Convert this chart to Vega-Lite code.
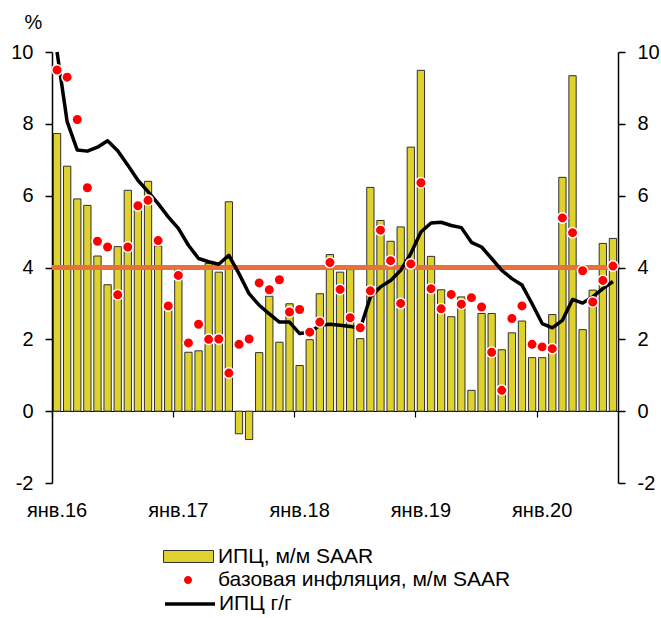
{
  "$schema": "https://vega.github.io/schema/vega-lite/v6.json",
  "width": 566,
  "height": 431,
  "autosize": {"type": "none"},
  "padding": {"left": 52, "top": 52, "right": 43, "bottom": 135},
  "config": {
    "view": {"stroke": null},
    "font": "Liberation Sans",
    "axis": {"labelFont": "Liberation Sans", "labelFontSize": 20, "labelColor": "#000", "grid": false, "domainColor": "#000", "tickColor": "#000", "titleFont": "Liberation Sans"},
    "legend": {"labelFont": "Liberation Sans", "labelFontSize": 21, "labelColor": "#000", "padding": 0, "title": null, "labelLimit": 600}
  },
  "data": {
    "values": [
      {"m": "2016-01", "cpi": 7.73, "core": 9.50, "yoy": 10.0},
      {"m": "2016-02", "cpi": 6.82, "core": 9.30, "yoy": 8.06},
      {"m": "2016-03", "cpi": 5.91, "core": 8.12, "yoy": 7.27},
      {"m": "2016-04", "cpi": 5.73, "core": 6.22, "yoy": 7.24},
      {"m": "2016-05", "cpi": 4.32, "core": 4.73, "yoy": 7.35},
      {"m": "2016-06", "cpi": 3.52, "core": 4.57, "yoy": 7.53},
      {"m": "2016-07", "cpi": 4.58, "core": 3.24, "yoy": 7.25},
      {"m": "2016-08", "cpi": 6.15, "core": 4.57, "yoy": 6.85},
      {"m": "2016-09", "cpi": 5.80, "core": 5.72, "yoy": 6.43},
      {"m": "2016-10", "cpi": 6.40, "core": 5.87, "yoy": 6.11},
      {"m": "2016-11", "cpi": 4.60, "core": 4.75, "yoy": 5.78},
      {"m": "2016-12", "cpi": 2.90, "core": 2.93, "yoy": 5.41},
      {"m": "2017-01", "cpi": 4.05, "core": 3.78, "yoy": 5.09},
      {"m": "2017-02", "cpi": 1.64, "core": 1.90, "yoy": 4.62},
      {"m": "2017-03", "cpi": 1.68, "core": 2.42, "yoy": 4.25},
      {"m": "2017-04", "cpi": 4.11, "core": 2.00, "yoy": 4.16},
      {"m": "2017-05", "cpi": 3.87, "core": 2.01, "yoy": 4.09},
      {"m": "2017-06", "cpi": 5.83, "core": 1.06, "yoy": 4.34},
      {"m": "2017-07", "cpi": -0.63, "core": 1.86, "yoy": 3.83},
      {"m": "2017-08", "cpi": -0.79, "core": 2.01, "yoy": 3.27},
      {"m": "2017-09", "cpi": 1.63, "core": 3.57, "yoy": 2.95},
      {"m": "2017-10", "cpi": 3.20, "core": 3.38, "yoy": 2.71},
      {"m": "2017-11", "cpi": 1.92, "core": 3.66, "yoy": 2.48},
      {"m": "2017-12", "cpi": 2.99, "core": 2.76, "yoy": 2.48},
      {"m": "2018-01", "cpi": 1.27, "core": 2.83, "yoy": 2.16},
      {"m": "2018-02", "cpi": 1.99, "core": 2.20, "yoy": 2.20},
      {"m": "2018-03", "cpi": 3.27, "core": 2.48, "yoy": 2.39},
      {"m": "2018-04", "cpi": 4.36, "core": 4.14, "yoy": 2.42},
      {"m": "2018-05", "cpi": 3.87, "core": 3.39, "yoy": 2.39},
      {"m": "2018-06", "cpi": 3.94, "core": 2.60, "yoy": 2.36},
      {"m": "2018-07", "cpi": 2.02, "core": 2.32, "yoy": 2.30},
      {"m": "2018-08", "cpi": 6.23, "core": 3.35, "yoy": 3.18},
      {"m": "2018-09", "cpi": 5.31, "core": 5.04, "yoy": 3.46},
      {"m": "2018-10", "cpi": 4.73, "core": 4.19, "yoy": 3.64},
      {"m": "2018-11", "cpi": 5.13, "core": 3.00, "yoy": 3.92},
      {"m": "2018-12", "cpi": 7.35, "core": 4.10, "yoy": 4.39},
      {"m": "2019-01", "cpi": 9.49, "core": 6.36, "yoy": 4.99},
      {"m": "2019-02", "cpi": 4.31, "core": 3.41, "yoy": 5.24},
      {"m": "2019-03", "cpi": 3.38, "core": 2.85, "yoy": 5.26},
      {"m": "2019-04", "cpi": 2.63, "core": 3.25, "yoy": 5.17},
      {"m": "2019-05", "cpi": 3.18, "core": 2.98, "yoy": 5.11},
      {"m": "2019-06", "cpi": 0.58, "core": 3.16, "yoy": 4.70},
      {"m": "2019-07", "cpi": 2.72, "core": 2.90, "yoy": 4.57},
      {"m": "2019-08", "cpi": 2.72, "core": 1.64, "yoy": 4.25},
      {"m": "2019-09", "cpi": 1.71, "core": 0.58, "yoy": 3.92},
      {"m": "2019-10", "cpi": 2.18, "core": 2.58, "yoy": 3.69},
      {"m": "2019-11", "cpi": 2.51, "core": 2.93, "yoy": 3.51},
      {"m": "2019-12", "cpi": 1.49, "core": 1.86, "yoy": 2.99},
      {"m": "2020-01", "cpi": 1.49, "core": 1.79, "yoy": 2.44},
      {"m": "2020-02", "cpi": 2.69, "core": 1.74, "yoy": 2.32},
      {"m": "2020-03", "cpi": 6.51, "core": 5.38, "yoy": 2.53},
      {"m": "2020-04", "cpi": 9.34, "core": 4.97, "yoy": 3.11},
      {"m": "2020-05", "cpi": 2.27, "core": 3.91, "yoy": 3.01},
      {"m": "2020-06", "cpi": 3.37, "core": 3.04, "yoy": 3.18},
      {"m": "2020-07", "cpi": 4.67, "core": 3.64, "yoy": 3.41},
      {"m": "2020-08", "cpi": 4.81, "core": 4.04, "yoy": 3.61}
    ]
  },
  "layer": [
    {
      "mark": {"type": "bar", "width": {"band": 0.72}, "stroke": "#303030", "strokeWidth": 1},
      "encoding": {
        "x": {
          "field": "m", "type": "ordinal", "sort": null,
          "scale": {"paddingInner": 0, "paddingOuter": 0},
          "axis": {
            "title": null, "orient": "bottom", "offset": -72,
            "values": ["2016-01", "2017-01", "2018-01", "2019-01", "2020-01"],
            "labelExpr": "'янв.' + slice(datum.value, 2, 4)",
            "bandPosition": 0, "labelDx": 5, "labelAngle": 0,
            "tickSize": 6, "tickWidth": 1.2, "domainWidth": 1.2,
            "labelPadding": 83, "labelBaseline": "top"
          }
        },
        "y": {
          "field": "cpi", "type": "quantitative",
          "scale": {"domain": [-2, 10], "nice": false, "zero": false},
          "axis": {
            "orient": "left", "values": [-2, 0, 2, 4, 6, 8, 10],
            "labelExpr": "'' + datum.value",
            "tickSize": 7, "tickWidth": 1.5, "domainWidth": 1.5, "labelPadding": 12,
            "title": "%", "titleAngle": 0, "titleX": -19, "titleY": -30,
            "titleFontSize": 20, "titleFontWeight": "normal", "titleAlign": "center", "titleBaseline": "middle", "titleColor": "#000"
          }
        },
        "fill": {
          "datum": "ИПЦ, м/м SAAR",
          "scale": {"range": ["#DFD22E"]},
          "legend": {
            "orient": "none", "legendX": 111, "legendY": 479,
            "symbolType": "M-1,-0.24H1V0.24H-1Z", "symbolSize": 2500,
            "symbolStrokeColor": "#303030", "symbolStrokeWidth": 1, "labelOffset": 4
          }
        }
      }
    },
    {
      "mark": {"type": "rule", "color": "#E8703A", "strokeWidth": 4},
      "encoding": {
        "y": {"datum": 4, "type": "quantitative", "scale": {"domain": [-2, 10], "nice": false, "zero": false}, "axis": null}
      }
    },
    {
      "mark": {"type": "line", "strokeWidth": 3.5, "strokeJoin": "round"},
      "encoding": {
        "x": {"field": "m", "type": "ordinal", "sort": null},
        "y": {
          "field": "yoy", "type": "quantitative",
          "scale": {"domain": [-2, 10], "nice": false, "zero": false},
          "axis": {
            "orient": "right", "values": [-2, 0, 2, 4, 6, 8, 10], "title": null,
            "labelExpr": "'' + datum.value",
            "tickSize": 7, "tickWidth": 1.5, "domainWidth": 1.5, "labelPadding": 12
          }
        },
        "stroke": {
          "datum": "ИПЦ г/г",
          "scale": {"range": ["#000000"]},
          "legend": {
            "orient": "none", "legendX": 111, "legendY": 525,
            "symbolType": "stroke", "symbolSize": 2500, "symbolStrokeWidth": 3.5, "labelOffset": 2
          }
        }
      }
    },
    {
      "mark": {"type": "point", "filled": true, "size": 110, "stroke": "#FFFFFF", "strokeWidth": 1.5, "opacity": 1},
      "encoding": {
        "x": {"field": "m", "type": "ordinal", "sort": null},
        "y": {
          "field": "core", "type": "quantitative",
          "scale": {"domain": [-2, 10], "nice": false, "zero": false},
          "axis": null
        },
        "color": {
          "datum": "базовая инфляция, м/м SAAR",
          "scale": {"range": ["#FF0000"]},
          "legend": {
            "orient": "none", "legendX": 111, "legendY": 503,
            "symbolType": "M-0.16,0A0.16,0.16 0 1,0 0.16,0A0.16,0.16 0 1,0 -0.16,0Z", "symbolSize": 2500,
            "symbolStrokeWidth": 0, "symbolOpacity": 1, "labelOffset": 5
          }
        }
      }
    }
  ],
  "resolve": {"scale": {"y": "independent"}}
}
